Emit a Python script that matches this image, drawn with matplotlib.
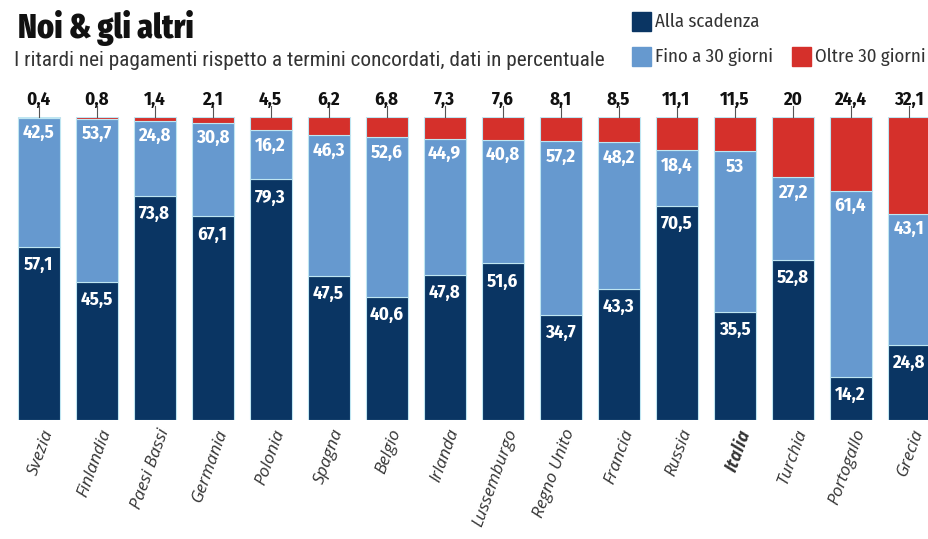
import matplotlib
matplotlib.use('Agg')
import matplotlib.pyplot as plt
from matplotlib.patches import Rectangle

# dati (percentuali)
paesi = ["Svezia", "Finlandia", "Paesi Bassi", "Germania", "Polonia", "Spagna", "Belgio",
         "Irlanda", "Lussemburgo", "Regno Unito", "Francia", "Russia", "Italia", "Turchia",
         "Portogallo", "Grecia"]
alla_scadenza = [57.1, 45.5, 73.8, 67.1, 79.3, 47.5, 40.6, 47.8, 51.6, 34.7, 43.3, 70.5, 35.5, 52.8, 14.2, 24.8]
fino_30 = [42.5, 53.7, 24.8, 30.8, 16.2, 46.3, 52.6, 44.9, 40.8, 57.2, 48.2, 18.4, 53, 27.2, 61.4, 43.1]
oltre_30 = [0.4, 0.8, 1.4, 2.1, 4.5, 6.2, 6.8, 7.3, 7.6, 8.1, 8.5, 11.1, 11.5, 20, 24.4, 32.1]

DARK = "#0a3563"
LIGHT = "#6699cf"
RED = "#d5302b"
EDGE = "#bfe6f2"
NUM_FONT = ["Fira Sans Condensed", "Roboto Condensed"]
TITLE_FONT = ["Fira Sans Extra Condensed", "Barlow Condensed", "Roboto Condensed"]
TEXT_FONT = ["Fira Sans Condensed", "Roboto Condensed"]


def fmt(v):
    s = f"{v:.1f}".replace(".", ",")
    return s[:-2] if s.endswith(",0") else s


fig = plt.figure(figsize=(9.29, 5.39), dpi=100)
ax = fig.add_axes([0, 0.2208, 1, 0.563])
x = list(range(len(paesi)))
w = 0.724

ax.bar(x, alla_scadenza, w, color=DARK, edgecolor=EDGE, linewidth=0.8)
ax.bar(x, fino_30, w, bottom=alla_scadenza, color=LIGHT, edgecolor=EDGE, linewidth=0.8)
bottom3 = [a + b for a, b in zip(alla_scadenza, fino_30)]
ax.bar(x, oltre_30, w, bottom=bottom3, color=RED, edgecolor=EDGE, linewidth=0.8)

ax.set_xlim(-0.664, 15.353)
ax.set_ylim(0, 100)
ax.axis("off")

for i in x:
    # etichette interne
    ax.annotate(fmt(alla_scadenza[i]), (i, alla_scadenza[i]), xytext=(0, -13),
                textcoords="offset points", ha="center", va="center", color="white",
                fontsize=13.5, fontweight="bold", family=NUM_FONT)
    ax.annotate(fmt(fino_30[i]), (i, bottom3[i]), xytext=(0, -11),
                textcoords="offset points", ha="center", va="center", color="white",
                fontsize=13.5, fontweight="bold", family=NUM_FONT)
    # valore oltre 30 giorni sopra la barra
    ax.annotate(fmt(oltre_30[i]), (i, 100), xytext=(0, 12), textcoords="offset points",
                ha="center", va="center", color="#111111", fontsize=13.5,
                fontweight="bold", family=NUM_FONT, annotation_clip=False)
    ax.plot([i, i], [100, 103.5], color="#555555", lw=0.8, clip_on=False)
    # nomi dei paesi
    ax.annotate(paesi[i], (i, 0), xytext=(2, -5), textcoords="offset points",
                ha="right", va="top", rotation=70, rotation_mode="anchor",
                fontsize=12.5, family="Open Sans", style="italic", color="#333333",
                fontweight="bold" if paesi[i] == "Italia" else "normal",
                annotation_clip=False)

# titolo e sottotitolo
fig.text(0.019, 0.929, "Noi & gli altri", fontsize=25, fontweight="heavy",
         family=TITLE_FONT, color="#111111", ha="left", va="baseline")
fig.text(0.015, 0.878, "I ritardi nei pagamenti rispetto a termini concordati, dati in percentuale",
         fontsize=15.3, fontweight="normal", family="Roboto Condensed", color="#333333",
         ha="left", va="baseline")

# legenda
legend = [("Alla scadenza", DARK, 632, 12), ("Fino a 30 giorni", LIGHT, 632, 47),
          ("Oltre 30 giorni", RED, 792, 47)]
W, H = 929, 539
for lab, col, px, py in legend:
    fig.patches.append(Rectangle((px / W, 1 - (py + 19) / H), 19 / W, 19 / H,
                                 transform=fig.transFigure, color=col))
    fig.text((px + 23) / W, 1 - (py + 10) / H, lab, fontsize=13.5, family=TEXT_FONT,
             fontweight="normal", color="#333333", ha="left", va="center")

fig.savefig("out.png", dpi=100, facecolor="white")
